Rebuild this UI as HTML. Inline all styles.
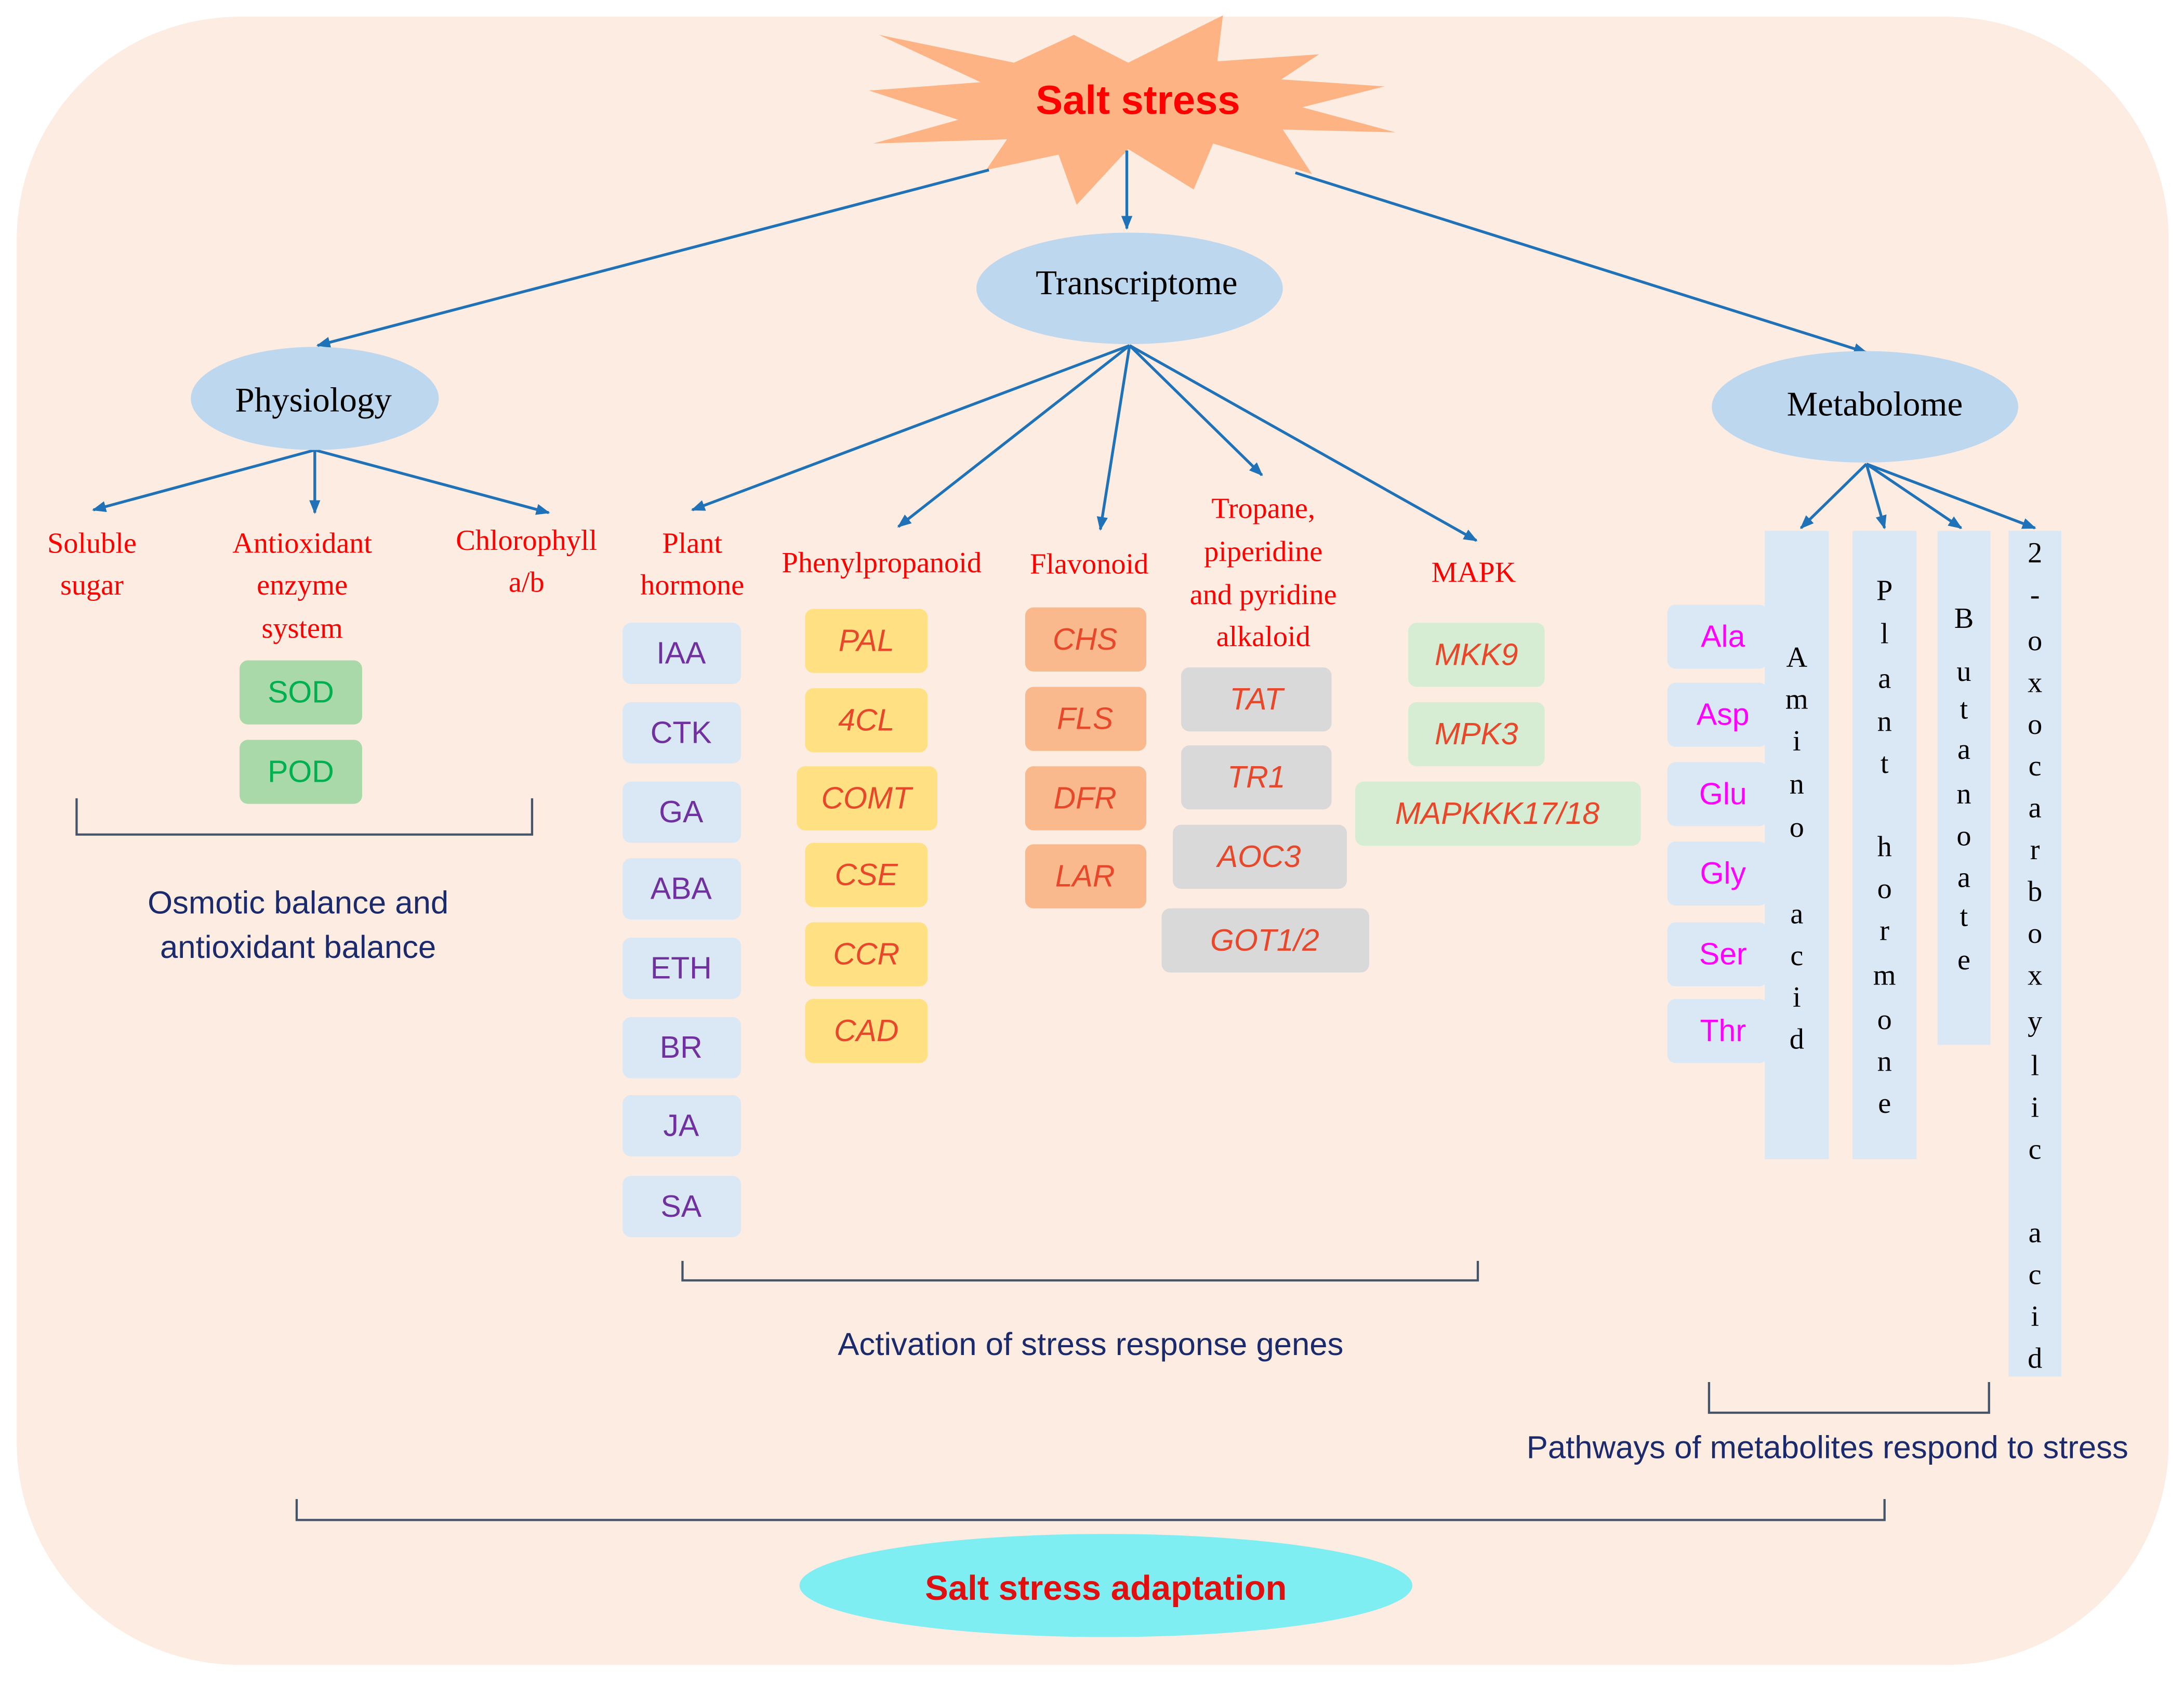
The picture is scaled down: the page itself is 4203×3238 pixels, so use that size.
<!DOCTYPE html>
<html><head><meta charset="utf-8"><style>html,body{margin:0;padding:0;background:#fff}svg{display:block}</style></head><body>
<svg xmlns="http://www.w3.org/2000/svg" width="4203" height="3238" viewBox="0 0 1568 1208" preserveAspectRatio="none">
<defs><marker id="a" markerWidth="10" markerHeight="10" refX="9" refY="5" orient="auto" markerUnits="userSpaceOnUse"><path d="M0,1 L10,5 L0,9 z" fill="#1f72b8"/></marker></defs>
<rect x="12" y="12" width="1545" height="1183" rx="160" ry="160" fill="#fdece1"/>
<polygon fill="#fdb384" points="631,25 728,45 771,25 810,45 878,11 874,44 947,39 920,57 994,62 935,77 1002,95 921,93 942,125 871,103 857,136 810,107 773,147 760,111 708,122 723,100 627,103 688,86 624,65 704,59"/>
<g font-family="Liberation Sans, sans-serif" text-anchor="middle" dominant-baseline="central">
<text x="817" y="72" font-size="29" font-weight="bold" fill="#ff0000">Salt stress</text>
</g>
<g stroke="#1f72b8" stroke-width="2" fill="none" marker-end="url(#a)">
<line x1="710" y1="122" x2="228" y2="248"/>
<line x1="809" y1="108" x2="809" y2="164"/>
<line x1="930" y1="124" x2="1340" y2="253"/>
<line x1="226" y1="323" x2="67" y2="366"/>
<line x1="226" y1="323" x2="226" y2="368"/>
<line x1="226" y1="323" x2="394" y2="368"/>
<line x1="811" y1="248" x2="497" y2="366"/>
<line x1="811" y1="248" x2="645" y2="378"/>
<line x1="811" y1="248" x2="790" y2="380"/>
<line x1="811" y1="248" x2="906" y2="341"/>
<line x1="811" y1="248" x2="1060" y2="388"/>
<line x1="1340" y1="333" x2="1293" y2="379"/>
<line x1="1340" y1="333" x2="1353" y2="379"/>
<line x1="1340" y1="333" x2="1408" y2="379"/>
<line x1="1340" y1="333" x2="1461" y2="379"/>
</g>
<ellipse cx="811" cy="207" rx="110" ry="40" fill="#bdd7ee"/>
<ellipse cx="226" cy="286" rx="89" ry="37" fill="#bdd7ee"/>
<ellipse cx="1339" cy="292" rx="110" ry="40" fill="#bdd7ee"/>
<g font-family="Liberation Serif, serif" text-anchor="middle" dominant-baseline="central" font-size="25" fill="#000">
<text x="816" y="203">Transcriptome</text>
<text x="225" y="287">Physiology</text>
<text x="1346" y="290">Metabolome</text>
</g>
<g font-family="Liberation Serif, serif" text-anchor="middle" dominant-baseline="central" font-size="21" fill="#ff0000">
<text x="66" y="390">Soluble</text><text x="66" y="420">sugar</text>
<text x="217" y="390">Antioxidant</text><text x="217" y="420">enzyme</text><text x="217" y="451">system</text>
<text x="378" y="388">Chlorophyll</text><text x="378" y="418">a/b</text>
<text x="497" y="390">Plant</text><text x="497" y="420">hormone</text>
<text x="633" y="404">Phenylpropanoid</text>
<text x="782" y="405">Flavonoid</text>
<text x="907" y="365">Tropane,</text><text x="907" y="396">piperidine</text><text x="907" y="427">and pyridine</text><text x="907" y="457">alkaloid</text>
<text x="1058" y="411">MAPK</text>
</g>
<g font-family="Liberation Sans, sans-serif" text-anchor="middle" dominant-baseline="central" font-size="22">
<g fill="#a9d9a9"><rect x="172" y="474" width="88" height="46" rx="6"/><rect x="172" y="531" width="88" height="46" rx="6"/></g>
<g fill="#00b050"><text x="216" y="497">SOD</text><text x="216" y="554">POD</text></g>
<g fill="#dae8f6">
<rect x="447" y="447" width="85" height="44" rx="6"/><rect x="447" y="504" width="85" height="44" rx="6"/><rect x="447" y="561" width="85" height="44" rx="6"/><rect x="447" y="616" width="85" height="44" rx="6"/><rect x="447" y="673" width="85" height="44" rx="6"/><rect x="447" y="730" width="85" height="44" rx="6"/><rect x="447" y="786" width="85" height="44" rx="6"/><rect x="447" y="844" width="85" height="44" rx="6"/>
</g>
<g fill="#7030a0"><text x="489" y="469">IAA</text><text x="489" y="526">CTK</text><text x="489" y="583">GA</text><text x="489" y="638">ABA</text><text x="489" y="695">ETH</text><text x="489" y="752">BR</text><text x="489" y="808">JA</text><text x="489" y="866">SA</text></g>
<g fill="#ffe083">
<rect x="578" y="437" width="88" height="46" rx="6"/><rect x="578" y="494" width="88" height="46" rx="6"/><rect x="572" y="550" width="101" height="46" rx="6"/><rect x="578" y="605" width="88" height="46" rx="6"/><rect x="578" y="662" width="88" height="46" rx="6"/><rect x="578" y="717" width="88" height="46" rx="6"/>
</g>
<g fill="#f9b98d">
<rect x="736" y="436" width="87" height="46" rx="6"/><rect x="736" y="493" width="87" height="46" rx="6"/><rect x="736" y="550" width="87" height="46" rx="6"/><rect x="736" y="606" width="87" height="46" rx="6"/>
</g>
<g fill="#d9d9d9">
<rect x="848" y="479" width="108" height="46" rx="6"/><rect x="848" y="535" width="108" height="46" rx="6"/><rect x="842" y="592" width="125" height="46" rx="6"/><rect x="834" y="652" width="149" height="46" rx="6"/>
</g>
<g fill="#d6edd3">
<rect x="1011" y="447" width="98" height="46" rx="6"/><rect x="1011" y="504" width="98" height="46" rx="6"/><rect x="973" y="561" width="205" height="46" rx="6"/>
</g>
<g fill="#e8472a" font-style="italic">
<text x="622" y="460">PAL</text><text x="622" y="517">4CL</text><text x="622" y="573">COMT</text><text x="622" y="628">CSE</text><text x="622" y="685">CCR</text><text x="622" y="740">CAD</text>
<text x="779" y="459">CHS</text><text x="779" y="516">FLS</text><text x="779" y="573">DFR</text><text x="779" y="629">LAR</text>
<text x="902" y="502">TAT</text><text x="902" y="558">TR1</text><text x="904" y="615">AOC3</text><text x="908" y="675">GOT1/2</text>
<text x="1060" y="470">MKK9</text><text x="1060" y="527">MPK3</text><text x="1075" y="584">MAPKKK17/18</text>
</g>
<g fill="#dae8f6">
<rect x="1197" y="434" width="72" height="46" rx="6"/><rect x="1197" y="490" width="72" height="46" rx="6"/><rect x="1197" y="547" width="72" height="46" rx="6"/><rect x="1197" y="604" width="72" height="46" rx="6"/><rect x="1197" y="662" width="72" height="46" rx="6"/><rect x="1197" y="717" width="72" height="46" rx="6"/>
<rect x="1267" y="381" width="46" height="451"/><rect x="1330" y="381" width="46" height="451"/><rect x="1391" y="381" width="38" height="369"/><rect x="1442" y="381" width="38" height="607"/>
</g>
<g fill="#ff00ff"><text x="1237" y="457">Ala</text><text x="1237" y="513">Asp</text><text x="1237" y="570">Glu</text><text x="1237" y="627">Gly</text><text x="1237" y="685">Ser</text><text x="1237" y="740">Thr</text></g>
</g>
<g font-family="Liberation Serif, serif" text-anchor="middle" dominant-baseline="central" font-size="21" fill="#000">
<text x="1290" y="472">A</text><text x="1290" y="502">m</text><text x="1290" y="532">i</text><text x="1290" y="563">n</text><text x="1290" y="594">o</text><text x="1290" y="656">a</text><text x="1290" y="686">c</text><text x="1290" y="716">i</text><text x="1290" y="746">d</text>
<text x="1353" y="424">P</text><text x="1353" y="455">l</text><text x="1353" y="487">a</text><text x="1353" y="518">n</text><text x="1353" y="548">t</text><text x="1353" y="608">h</text><text x="1353" y="638">o</text><text x="1353" y="668">r</text><text x="1353" y="700">m</text><text x="1353" y="732">o</text><text x="1353" y="762">n</text><text x="1353" y="792">e</text>
<text x="1410" y="444">B</text><text x="1410" y="482">u</text><text x="1410" y="509">t</text><text x="1410" y="538">a</text><text x="1410" y="570">n</text><text x="1410" y="600">o</text><text x="1410" y="630">a</text><text x="1410" y="658">t</text><text x="1410" y="689">e</text>
<text x="1461" y="397">2</text><text x="1461" y="427">-</text><text x="1461" y="460">o</text><text x="1461" y="490">x</text><text x="1461" y="520">o</text><text x="1461" y="550">c</text><text x="1461" y="580">a</text><text x="1461" y="610">r</text><text x="1461" y="640">b</text><text x="1461" y="670">o</text><text x="1461" y="700">x</text><text x="1461" y="733">y</text><text x="1461" y="765">l</text><text x="1461" y="795">i</text><text x="1461" y="825">c</text><text x="1461" y="885">a</text><text x="1461" y="915">c</text><text x="1461" y="945">i</text><text x="1461" y="975">d</text>
</g>
<g stroke="#44546a" stroke-width="1.6" fill="none">
<polyline points="55,573 55,599 382,599 382,573"/>
<polyline points="490,905 490,919 1061,919 1061,905"/>
<polyline points="1227,992 1227,1014 1428,1014 1428,992"/>
<polyline points="213,1076 213,1091 1353,1091 1353,1076"/>
</g>
<g font-family="Liberation Sans, sans-serif" text-anchor="middle" dominant-baseline="central" font-size="23" fill="#1a2a6c">
<text x="214" y="648">Osmotic balance and</text>
<text x="214" y="680">antioxidant balance</text>
<text x="783" y="965">Activation of stress response genes</text>
<text x="1312" y="1039">Pathways of metabolites respond to stress</text>
</g>
<ellipse cx="794" cy="1138" rx="220" ry="37" fill="#7eeef2"/>
<text x="794" y="1140" font-family="Liberation Sans, sans-serif" text-anchor="middle" dominant-baseline="central" font-size="25" font-weight="bold" fill="#e01010">Salt stress adaptation</text>
</svg>
</body></html>
